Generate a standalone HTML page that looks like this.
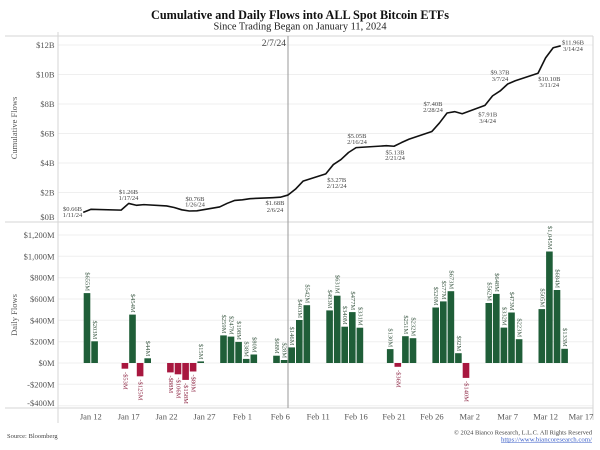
<!DOCTYPE html>
<html><head><meta charset="utf-8"><style>
html,body{margin:0;padding:0;background:#fff;}
svg{display:block;}
text{font-family:"Liberation Serif",serif;}
</style></head><body>
<svg width="600" height="450" viewBox="0 0 600 450" xmlns="http://www.w3.org/2000/svg">
<rect width="600" height="450" fill="#fff"/>
<!-- Title -->
<text x="300" y="19" text-anchor="middle" font-size="12.5" font-weight="bold" fill="#111" textLength="298" lengthAdjust="spacingAndGlyphs">Cumulative and Daily Flows into ALL Spot Bitcoin ETFs</text>
<text x="300" y="29.5" text-anchor="middle" font-size="10" fill="#222" textLength="173" lengthAdjust="spacingAndGlyphs">Since Trading Began on January 11, 2024</text>

<!-- gridlines top -->
<g stroke="#efefef" stroke-width="1">
<line x1="58" y1="45" x2="593" y2="45"/>
<line x1="58" y1="74.5" x2="593" y2="74.5"/>
<line x1="58" y1="104" x2="593" y2="104"/>
<line x1="58" y1="133.5" x2="593" y2="133.5"/>
<line x1="58" y1="163" x2="593" y2="163"/>
<line x1="58" y1="192.5" x2="593" y2="192.5"/>
<!-- bottom -->
<line x1="58" y1="235" x2="593" y2="235"/>
<line x1="58" y1="256.3" x2="593" y2="256.3"/>
<line x1="58" y1="277.7" x2="593" y2="277.7"/>
<line x1="58" y1="299" x2="593" y2="299"/>
<line x1="58" y1="320.3" x2="593" y2="320.3"/>
<line x1="58" y1="341.7" x2="593" y2="341.7"/>
<line x1="58" y1="363" x2="593" y2="363"/>
<line x1="58" y1="384.3" x2="593" y2="384.3"/>
<line x1="58" y1="405.7" x2="593" y2="405.7"/>
</g>
<!-- frame -->
<g stroke="#d6d6d6" stroke-width="1">
<line x1="5" y1="36" x2="593" y2="36"/>
<line x1="5" y1="222" x2="593" y2="222"/>
<line x1="5" y1="408" x2="593" y2="408"/>
<line x1="58" y1="32" x2="58" y2="423"/>
<line x1="593" y1="36" x2="593" y2="420"/>
</g>
<!-- vertical 2/7/24 line -->
<line x1="288" y1="36" x2="288" y2="408" stroke="#9a9a9a" stroke-width="1"/>
<text x="286" y="46" text-anchor="end" font-size="9.5" fill="#444">2/7/24</text>

<!-- y labels top -->
<g font-size="8.5" fill="#555" text-anchor="end">
<text x="54.5" y="48">$12B</text>
<text x="54.5" y="77.5">$10B</text>
<text x="54.5" y="107">$8B</text>
<text x="54.5" y="136.5">$6B</text>
<text x="54.5" y="166">$4B</text>
<text x="54.5" y="195.5">$2B</text>
<text x="54.5" y="220">$0B</text>
</g>
<text transform="translate(17,128) rotate(-90)" text-anchor="middle" font-size="8.5" fill="#555">Cumulative Flows</text>

<!-- y labels bottom -->
<g font-size="8.5" fill="#555" text-anchor="end">
<text x="54.5" y="238">$1,200M</text>
<text x="54.5" y="259.3">$1,000M</text>
<text x="54.5" y="280.7">$800M</text>
<text x="54.5" y="302">$600M</text>
<text x="54.5" y="323.3">$400M</text>
<text x="54.5" y="344.7">$200M</text>
<text x="54.5" y="366">$0M</text>
<text x="54.5" y="387.3">-$200M</text>
<text x="54.5" y="406">-$400M</text>
</g>
<text transform="translate(17,315) rotate(-90)" text-anchor="middle" font-size="8.5" fill="#555">Daily Flows</text>

<!-- x labels -->
<g font-size="8.5" fill="#555" text-anchor="middle">
<text x="90.8" y="419.5">Jan 12</text>
<text x="128.7" y="419.5">Jan 17</text>
<text x="166.6" y="419.5">Jan 22</text>
<text x="204.5" y="419.5">Jan 27</text>
<text x="242.4" y="419.5">Feb 1</text>
<text x="280.3" y="419.5">Feb 6</text>
<text x="318.2" y="419.5">Feb 11</text>
<text x="356.1" y="419.5">Feb 16</text>
<text x="394" y="419.5">Feb 21</text>
<text x="431.9" y="419.5">Feb 26</text>
<text x="469.8" y="419.5">Mar 2</text>
<text x="507.7" y="419.5">Mar 7</text>
<text x="545.6" y="419.5">Mar 12</text>
<text x="581" y="419.5">Mar 17</text>
</g>

<!-- bars green -->
<g fill="#1f5e38">
<rect x="83.7" y="293.1" width="6.6" height="69.9"/>
<rect x="91.3" y="341.3" width="6.6" height="21.7"/>
<rect x="129.2" y="314.6" width="6.6" height="48.4"/>
<rect x="144.4" y="358.3" width="6.6" height="4.7"/>
<rect x="197.4" y="361.4" width="6.6" height="1.6"/>
<rect x="220.2" y="335.4" width="6.6" height="27.6"/>
<rect x="227.7" y="336.6" width="6.6" height="26.4"/>
<rect x="235.3" y="341.9" width="6.6" height="21.1"/>
<rect x="242.9" y="358.9" width="6.6" height="4.1"/>
<rect x="250.5" y="354.5" width="6.6" height="8.5"/>
<rect x="273.2" y="355.7" width="6.6" height="7.3"/>
<rect x="280.8" y="360" width="6.6" height="3"/>
<rect x="288.4" y="347.4" width="6.6" height="15.6"/>
<rect x="296" y="320" width="6.6" height="43"/>
<rect x="303.5" y="305.2" width="6.6" height="57.8"/>
<rect x="326.3" y="310.4" width="6.6" height="52.6"/>
<rect x="333.9" y="295.7" width="6.6" height="67.3"/>
<rect x="341.4" y="326.7" width="6.6" height="36.3"/>
<rect x="349" y="312.1" width="6.6" height="50.9"/>
<rect x="356.6" y="327.7" width="6.6" height="35.3"/>
<rect x="386.9" y="349.1" width="6.6" height="13.9"/>
<rect x="402.1" y="336.2" width="6.6" height="26.8"/>
<rect x="409.7" y="338.2" width="6.6" height="24.8"/>
<rect x="432.4" y="307.5" width="6.6" height="55.5"/>
<rect x="440" y="301.4" width="6.6" height="61.6"/>
<rect x="447.6" y="291.2" width="6.6" height="71.8"/>
<rect x="455.1" y="353.2" width="6.6" height="9.8"/>
<rect x="485.5" y="303" width="6.6" height="60"/>
<rect x="493" y="293.9" width="6.6" height="69.1"/>
<rect x="500.6" y="327.6" width="6.6" height="35.4"/>
<rect x="508.2" y="312.5" width="6.6" height="50.5"/>
<rect x="515.8" y="339.2" width="6.6" height="23.8"/>
<rect x="538.5" y="309.1" width="6.6" height="53.9"/>
<rect x="546.1" y="251.5" width="6.6" height="111.5"/>
<rect x="553.7" y="290" width="6.6" height="73"/>
<rect x="561.3" y="348.8" width="6.6" height="14.2"/>
</g>
<!-- bars red -->
<g fill="#a8173f">
<rect x="121.6" y="363" width="6.6" height="5.7"/>
<rect x="136.8" y="363" width="6.6" height="13.3"/>
<rect x="167.1" y="363" width="6.6" height="9.4"/>
<rect x="174.7" y="363" width="6.6" height="11.3"/>
<rect x="182.3" y="363" width="6.6" height="16.9"/>
<rect x="189.8" y="363" width="6.6" height="8.5"/>
<rect x="394.5" y="363" width="6.6" height="3.8"/>
<rect x="462.7" y="363" width="6.6" height="14.9"/>
</g>

<!-- bar labels positive -->
<g font-size="6.5" fill="#3d5a46" text-anchor="end" dominant-baseline="central">
<text transform="translate(87,291) rotate(90)">$655M</text>
<text transform="translate(94.6,339.3) rotate(90)">$203M</text>
<text transform="translate(132.5,312.6) rotate(90)">$454M</text>
<text transform="translate(147.6,356.3) rotate(90)">$44M</text>
<text transform="translate(200.7,359.4) rotate(90)">$15M</text>
<text transform="translate(223.5,333.4) rotate(90)">$259M</text>
<text transform="translate(231,334.6) rotate(90)">$247M</text>
<text transform="translate(238.6,339.9) rotate(90)">$198M</text>
<text transform="translate(246.2,356.9) rotate(90)">$38M</text>
<text transform="translate(253.8,352.5) rotate(90)">$80M</text>
<text transform="translate(276.5,353.7) rotate(90)">$68M</text>
<text transform="translate(284.1,358) rotate(90)">$28M</text>
<text transform="translate(291.7,345.4) rotate(90)">$146M</text>
<text transform="translate(299.3,318) rotate(90)">$403M</text>
<text transform="translate(306.8,303.2) rotate(90)">$542M</text>
<text transform="translate(329.6,308.4) rotate(90)">$493M</text>
<text transform="translate(337.2,293.7) rotate(90)">$631M</text>
<text transform="translate(344.7,324.7) rotate(90)">$340M</text>
<text transform="translate(352.3,310.1) rotate(90)">$477M</text>
<text transform="translate(359.9,325.7) rotate(90)">$331M</text>
<text transform="translate(390.2,347.1) rotate(90)">$130M</text>
<text transform="translate(405.4,334.2) rotate(90)">$251M</text>
<text transform="translate(413,336.2) rotate(90)">$232M</text>
<text transform="translate(435.7,305.5) rotate(90)">$520M</text>
<text transform="translate(443.3,299.4) rotate(90)">$577M</text>
<text transform="translate(450.9,289.2) rotate(90)">$673M</text>
<text transform="translate(458.4,351.2) rotate(90)">$92M</text>
<text transform="translate(488.8,301) rotate(90)">$562M</text>
<text transform="translate(496.3,291.9) rotate(90)">$648M</text>
<text transform="translate(503.9,325.6) rotate(90)">$332M</text>
<text transform="translate(511.5,310.5) rotate(90)">$473M</text>
<text transform="translate(519.1,337.2) rotate(90)">$223M</text>
<text transform="translate(541.8,307.1) rotate(90)">$505M</text>
<text transform="translate(549.4,249.5) rotate(90)">$1,045M</text>
<text transform="translate(557,288) rotate(90)">$684M</text>
<text transform="translate(564.6,346.8) rotate(90)">$133M</text>
</g>
<!-- bar labels negative -->
<g font-size="6.5" fill="#8c2442" text-anchor="start" dominant-baseline="central">
<text transform="translate(124.9,372) rotate(90)">-$53M</text>
<text transform="translate(140.1,379.5) rotate(90)">-$125M</text>
<text transform="translate(170.4,375.5) rotate(90)">-$88M</text>
<text transform="translate(178,377.5) rotate(90)">-$106M</text>
<text transform="translate(185.6,383) rotate(90)">-$158M</text>
<text transform="translate(193.1,374.5) rotate(90)">-$80M</text>
<text transform="translate(397.8,370) rotate(90)">-$36M</text>
<text transform="translate(466,381) rotate(90)">-$140M</text>
</g>

<!-- cumulative line -->
<polyline fill="none" stroke="#111" stroke-width="1.6" stroke-linejoin="round" points="83.22,212.34 90.8,209.34 121.12,210.13 128.7,203.43 136.28,205.27 143.86,204.62 166.6,205.92 174.18,207.49 181.76,209.82 189.34,211 196.92,210.78 219.66,206.96 227.24,203.31 234.82,200.39 242.4,199.83 249.98,198.65 272.72,197.65 280.3,197.23 287.88,195.08 295.46,189.14 303.04,181.14 325.78,173.87 333.36,164.56 340.94,159.55 348.52,152.51 356.1,147.63 386.42,145.71 394,146.24 401.58,142.54 409.16,139.12 431.9,131.45 439.48,122.94 447.06,113.01 454.64,111.66 462.22,113.72 484.96,105.43 492.54,95.87 500.12,90.98 507.7,84 515.28,80.71 538.02,73.26 545.6,57.85 553.18,47.76 560.76,45.8"/>

<!-- annotations -->
<g font-size="6.5" fill="#444" text-anchor="middle">
<text x="72.5" y="211.2">$0.66B</text><text x="72.5" y="217.2">1/11/24</text>
<text x="128.5" y="194.2">$1.26B</text><text x="128.5" y="200.2">1/17/24</text>
<text x="195" y="201.2">$0.76B</text><text x="195" y="206.7">1/26/24</text>
<text x="275" y="205.2">$1.68B</text><text x="275" y="212.2">2/6/24</text>
<text x="336.7" y="182.2">$3.27B</text><text x="336.7" y="187.9">2/12/24</text>
<text x="357" y="138.2">$5.05B</text><text x="357" y="143.9">2/16/24</text>
<text x="395" y="154.5">$5.13B</text><text x="395" y="159.9">2/21/24</text>
<text x="433" y="106.2">$7.40B</text><text x="433" y="112.2">2/28/24</text>
<text x="487.7" y="116.5">$7.91B</text><text x="487.7" y="122.9">3/4/24</text>
<text x="500" y="74.5">$9.37B</text><text x="500" y="81.2">3/7/24</text>
<text x="549.3" y="80.9">$10.10B</text><text x="549.3" y="87.2">3/11/24</text>
<text x="573" y="44.5">$11.96B</text><text x="573" y="51.2">3/14/24</text>
</g>

<!-- footer -->
<text x="7" y="438" font-size="6.5" fill="#444">Source: Bloomberg</text>
<text x="592" y="434.5" font-size="6.5" fill="#444" text-anchor="end" textLength="138" lengthAdjust="spacingAndGlyphs">© 2024 Bianco Research, L.L.C. All Rights Reserved</text>
<text x="592" y="441.5" font-size="6.5" fill="#3b5fc8" text-anchor="end" textLength="91" lengthAdjust="spacingAndGlyphs">https://www.biancoresearch.com/</text>
<line x1="501" y1="442.7" x2="592" y2="442.7" stroke="#3b5fc8" stroke-width="0.5"/>
</svg>
</body></html>
